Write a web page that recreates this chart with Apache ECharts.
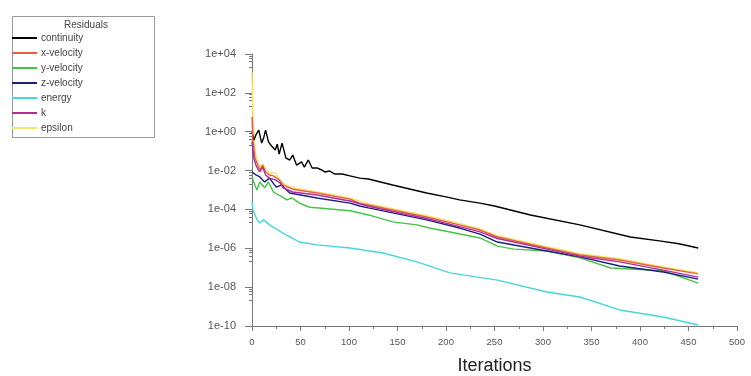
<!DOCTYPE html>
<html>
<head>
<meta charset="utf-8">
<script src="https://cdn.jsdelivr.net/npm/echarts@6/dist/echarts.min.js"></script>
<style>
  html, body { margin: 0; padding: 0; background: #fff; }
  #chart { width: 751px; height: 376px; }
</style>
</head>
<body>
<div id="chart"></div>
<script>
// residual history, [iteration, residual]
const continuity = [[0,0.97],[2,0.37],[4,0.68],[7,1.2],[10,0.26],[12,0.48],[14,1.2],[17,0.30],[20,0.19],[24,0.115],[26,0.23],[28,0.07],[31,0.26],[35,0.044],[39,0.035],[42,0.063],[46,0.019],[51,0.028],[54,0.015],[58,0.035],[62,0.0136],[67,0.0136],[72,0.0107],[75,0.0085],[80,0.0095],[85,0.0067],[93,0.0067],[101,0.0053],[111,0.0041],[120,0.0037],[145,0.0018],[180,7e-4],[200,4.4e-4],[214,3.1e-4],[235,2.1e-4],[250,1.5e-4],[287,5.2e-5],[338,1.6e-5],[390,3.8e-6],[420,2.4e-6],[440,1.7e-6],[460,1.04e-6]];
const xVelocity = [[0,5.7],[1,0.37],[3,0.044],[5,0.025],[8,0.0107],[11,0.019],[14,0.0085],[18,0.0059],[22,0.0053],[24,0.0065],[28,0.0033],[32,0.0018],[42,0.0011],[67,7e-4],[101,3.4e-4],[111,2.1e-4],[120,1.7e-4],[145,9.4e-5],[180,4.1e-5],[214,1.6e-5],[235,8.7e-6],[253,3.8e-6],[304,1.04e-6],[338,4.5e-7],[379,2.5e-7],[424,9.7e-8],[460,4.8e-8]];
const yVelocity = [[0,0.0047],[1,0.0033],[5,0.001],[8,0.0026],[13,0.0013],[17,0.0026],[22,7.9e-4],[31,4.4e-4],[36,3.1e-4],[41,3.9e-4],[49,2.1e-4],[56,1.5e-4],[58,1.7e-4],[60,1.3e-4],[101,8.5e-5],[120,5.2e-5],[145,2.3e-5],[170,1.6e-5],[183,1.1e-5],[204,6.9e-6],[235,3.4e-6],[253,1.3e-6],[270,9e-7],[304,7.3e-7],[338,3.2e-7],[370,9.7e-8],[411,7.6e-8],[424,7e-8],[460,1.6e-8]];
const zVelocity = [[0,0.0085],[1,0.0075],[4,0.006],[8,0.0047],[13,0.0026],[18,0.0041],[25,0.0014],[30,0.0018],[39,7e-4],[67,3.9e-4],[101,2.1e-4],[111,1.5e-4],[120,1.2e-4],[145,6.6e-5],[180,2.9e-5],[214,1.1e-5],[235,5.4e-6],[253,2.1e-6],[304,7.3e-7],[338,3.6e-7],[379,1.23e-7],[424,6e-8],[460,2.6e-8]];
const energy = [[0,2.4e-4],[1,9.4e-5],[5,3e-5],[8,2e-5],[12,2.9e-5],[18,1.6e-5],[32,6.1e-6],[49,2.1e-6],[67,1.5e-6],[101,1.04e-6],[135,5.7e-7],[170,2e-7],[204,5.4e-8],[253,2.3e-8],[304,5.6e-9],[338,3.1e-9],[379,6.7e-10],[424,2.9e-10],[460,1.13e-10]];
const kRes = [[0,0.3],[2,0.04],[4,0.019],[6,0.012],[8,0.0085],[11,0.015],[14,0.0059],[18,0.0041],[24,0.0033],[29,0.0023],[32,0.0013],[42,7.9e-4],[67,5.5e-4],[101,2.7e-4],[120,1.45e-4],[145,7.8e-5],[180,3.4e-5],[214,1.3e-5],[235,7e-6],[253,3.2e-6],[304,9e-7],[338,3.9e-7],[379,2e-7],[424,7.5e-8],[460,3.3e-8]];
const epsilon = [[0,1200],[1,4],[2,0.5],[3,0.1],[5,0.035],[8,0.015],[11,0.022],[14,0.011],[18,0.0075],[24,0.0075],[28,0.004],[32,0.0022],[42,0.0013],[67,8e-4],[101,3.9e-4],[120,2e-4],[145,1.1e-4],[180,4.8e-5],[214,1.9e-5],[235,1e-5],[253,4.4e-6],[304,1.2e-6],[338,5.2e-7],[379,2.9e-7],[424,1.1e-7],[460,5.4e-8]];

const seriesNames = ['continuity', 'x-velocity', 'y-velocity', 'z-velocity', 'energy', 'k', 'epsilon'];
const seriesData = [continuity, xVelocity, yVelocity, zVelocity, energy, kRes, epsilon];
const colors = ['#000000', '#e2603e', '#44c444', '#1e1e7c', '#44d8dc', '#b02c98', '#f4e46c'];

const fontFamily = '"Liberation Sans", Arial, sans-serif';

// 1e+04 style labels
function expLabel(v) {
    const e = Math.round(Math.log10(v));
    return '1e' + (e < 0 ? '-' : '+') + String(Math.abs(e)).padStart(2, '0');
}

const chart = echarts.init(document.getElementById('chart'));

const option = {
    animation: false,
    textStyle: {fontFamily: fontFamily},
    title: {
        text: 'Residuals',
        left: 81,
        textAlign: 'center',
        top: 15,
        textStyle: {fontSize: 10, fontWeight: 'normal', color: '#444', fontFamily: fontFamily}
    },
    graphic: [{
        type: 'rect',
        left: 10,
        top: 14,
        shape: {width: 142, height: 121},
        style: {fill: 'none', stroke: '#999', lineWidth: 1}
    }],
    legend: {
        orient: 'vertical',
        left: 12,
        top: 32,
        padding: 0,
        itemGap: 3,
        itemWidth: 25,
        itemHeight: 2,
        icon: 'rect',
        selectedMode: false,
        textStyle: {fontSize: 10, color: '#444', lineHeight: 12, padding: [0, 0, 0, -1], fontFamily: fontFamily},
        data: seriesNames
    },
    grid: {left: 252, right: 14, top: 54, bottom: 50, containLabel: false, outerBoundsMode: 'none'},
    xAxis: {
        type: 'value',
        min: 0,
        max: 500,
        interval: 50,
        name: 'Iterations',
        nameLocation: 'middle',
        nameGap: 31,
        nameTextStyle: {fontSize: 18, color: '#222', fontFamily: fontFamily},
        axisLine: {lineStyle: {color: '#777'}},
        axisTick: {length: 5, lineStyle: {color: '#777'}},
        minorTick: {show: true, splitNumber: 2, length: 3, lineStyle: {color: '#777'}},
        axisLabel: {fontSize: 9.5, color: '#555', margin: 11, fontFamily: fontFamily},
        splitLine: {show: false}
    },
    yAxis: {
        type: 'log',
        logBase: 10,
        min: 1e-10,
        max: 1e4,
        interval: 2,
        axisLine: {show: true, lineStyle: {color: '#777'}},
        axisTick: {show: true, length: 7, lineStyle: {color: '#777'}},
        minorTick: {show: true, splitNumber: 5, length: 3, lineStyle: {color: '#777'}},
        axisLabel: {fontSize: 11, color: '#555', margin: 16, formatter: expLabel, fontFamily: fontFamily},
        splitLine: {show: false}
    },
    series: seriesNames.map((name, i) => ({
        name: name,
        type: 'line',
        data: seriesData[i],
        showSymbol: false,
        symbol: 'none',
        color: colors[i],
        z: name === 'epsilon' ? 1 : 2,
        lineStyle: {width: 1.4, color: colors[i]}
    }))
};

chart.setOption(option);
</script>
</body>
</html>
